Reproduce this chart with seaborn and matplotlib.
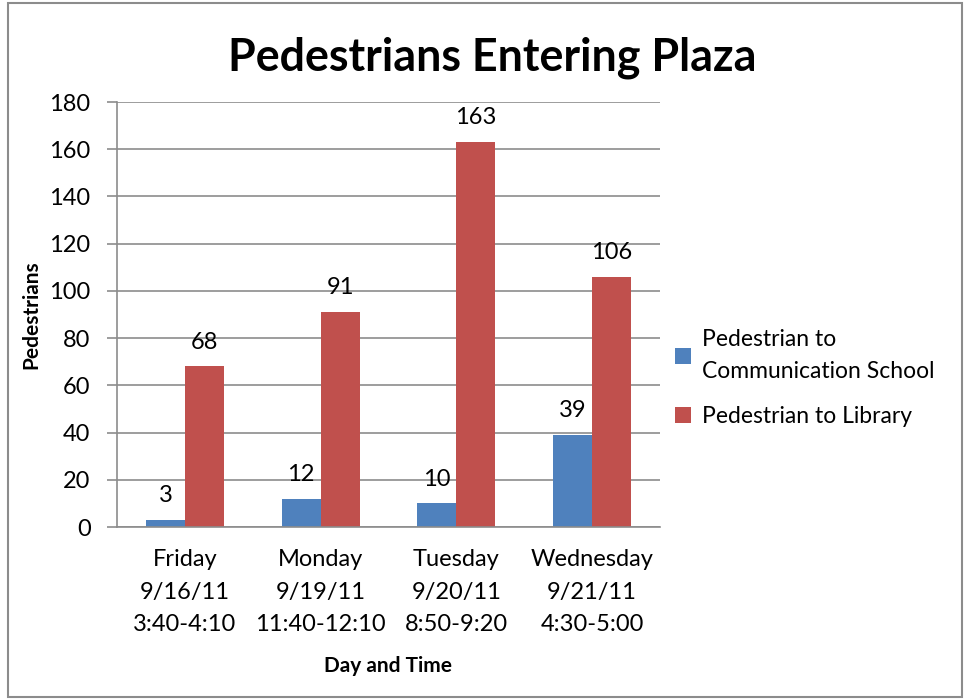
import numpy as np
import pandas as pd
import seaborn as sns
import matplotlib
matplotlib.use("Agg")
import matplotlib.pyplot as plt
from matplotlib.patches import Rectangle

days = ["Friday\n9/16/11\n3:40-4:10", "Monday\n9/19/11\n11:40-12:10",
        "Tuesday\n9/20/11\n8:50-9:20", "Wednesday\n9/21/11\n4:30-5:00"]
comm_school = [3, 12, 10, 39]
library = [68, 91, 163, 106]
series = ["Pedestrian to\nCommunication School", "Pedestrian to Library"]

df = pd.DataFrame({
    "day": days * 2,
    "count": comm_school + library,
    "series": [series[0]] * 4 + [series[1]] * 4,
})

sns.set_theme(style="white")
plt.rcParams['font.family'] = ['Lato', 'DejaVu Sans']
plt.rcParams['text.color'] = 'black'
plt.rcParams['axes.labelcolor'] = 'black'

grey = "#8c8c8c"
fig = plt.figure(figsize=(9.65, 7), dpi=100)
ax = fig.add_axes([117 / 965, 1 - 527 / 700, (660 - 117) / 965, (527 - 102) / 700])

sns.barplot(data=df, x="day", y="count", hue="series", ax=ax, width=0.575,
            palette=["#4F81BD", "#C0504D"], saturation=1, gap=0, linewidth=0)

for cont in ax.containers:
    ax.bar_label(cont, padding=10, fontsize=17)

ax.set_ylim(0, 180)
ax.set_yticks(range(0, 181, 20))
ax.yaxis.grid(True, color=grey, lw=1.2)
ax.set_axisbelow(True)
ax.set_xlim(-0.5, 3.5)
ax.set_xticks(np.arange(-0.5, 4, 1), minor=False)
ax.set_xticklabels([])
ax.set_xticks(range(4), labels=days, minor=True)
ax.tick_params(axis="x", which="minor", length=0, labelsize=17, pad=16, labelcolor="black")
ax.tick_params(axis="x", which="major", length=7, color=grey, width=1.2)
ax.tick_params(axis="y", length=7, color=grey, width=1.2, labelsize=17, pad=12, left=True,
               labelcolor="black")
for lab in ax.get_xticklabels(minor=True):
    lab.set_linespacing(1.68)

for s in ["top", "right"]:
    ax.spines[s].set_visible(False)
for s in ["left", "bottom"]:
    ax.spines[s].set_color(grey)
    ax.spines[s].set_linewidth(1.2)

ax.set_xlabel("Day and Time", fontsize=15, fontweight="bold", labelpad=15)
ax.set_ylabel("Pedestrians", fontsize=15, fontweight="bold", labelpad=6)
fig.text(492 / 965, 1 - 58 / 700, "Pedestrians Entering Plaza", fontsize=32.3, fontweight="bold",
         ha="center", va="center")

leg = ax.legend(loc="upper left", bbox_to_anchor=(0.99, 0.515), frameon=False, fontsize=16.5,
                handlelength=0.7, handleheight=0.7, handletextpad=0.45, labelspacing=1.05)
for t in leg.get_texts():
    t.set_linespacing(1.68)

fig.patches.append(Rectangle((8 / 965, 3 / 700), 954 / 965, 694 / 700, transform=fig.transFigure,
                             fill=False, edgecolor=grey, lw=1.5))

fig.savefig("out.png", dpi=100)
